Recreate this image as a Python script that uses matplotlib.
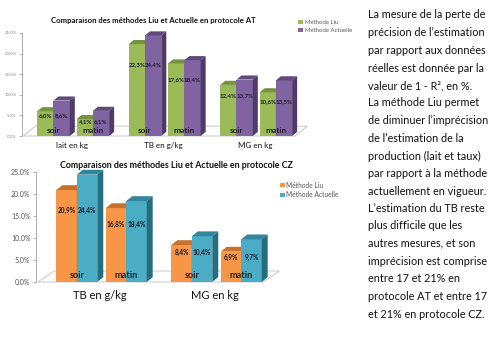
import matplotlib
matplotlib.use("Agg")
import matplotlib.pyplot as plt
from matplotlib.patches import Polygon, Rectangle

plt.rcParams['font.family'] = ['Lato', 'DejaVu Sans']

# ---------------- data ----------------
at_categories = ["lait en kg", "TB en g/kg", "MG en kg"]
at_liu_soir = [6.0, 22.3, 12.4]
at_act_soir = [8.6, 24.4, 13.7]
at_liu_matin = [4.1, 17.6, 10.6]
at_act_matin = [6.1, 18.4, 13.5]

cz_categories = ["TB en g/kg", "MG en kg"]
cz_liu_soir = [20.9, 8.4]
cz_act_soir = [24.4, 10.4]
cz_liu_matin = [16.8, 6.9]
cz_act_matin = [18.4, 9.7]

session_labels = ["soir", "matin"]
series_names = ["Méthode Liu", "Méthode Actuelle"]
y_ticks = [0, 5, 10, 15, 20, 25]

title_at = "Comparaison des méthodes Liu et Actuelle en protocole AT"
title_cz = "Comparaison des méthodes Liu et Actuelle en protocole CZ"

paragraphs = [
    ["La mesure de la perte de", "précision de l\u2019estimation",
     "par rapport aux données", "réelles est donnée par la",
     "valeur de 1 - R², en %."],
    ["La méthode Liu permet", "de diminuer l\u2019imprécision",
     "de l\u2019estimation de la", "production (lait et taux)",
     "par rapport à la méthode", "actuellement en vigueur."],
    ["L\u2019estimation du TB reste", "plus difficile que les",
     "autres mesures, et son", "imprécision est comprise",
     "entre 17 et 21% en", "protocole AT et entre 17",
     "et 21% en protocole CZ."],
]

W, H = 500, 345
fig = plt.figure(figsize=(W / 100, H / 100), dpi=100)
fig.patch.set_facecolor("white")


def px_axes(l, r, b, t):
    return fig.add_axes([l / W, 1 - b / H, (r - l) / W, (b - t) / H])


def fmt(v):
    return f"{v:.1f}%".replace(".", ",")


def bar3d(ax, x, v, w, dx, dy, front, top, side, z):
    ax.bar([x], [v], width=w, align="edge", color=front, zorder=z, linewidth=0)
    ax.add_patch(Polygon([(x, v), (x + w, v), (x + w + dx, v + dy), (x + dx, v + dy)],
                         closed=True, facecolor=top, edgecolor="none", zorder=z, clip_on=False))
    ax.add_patch(Polygon([(x + w, 0), (x + w + dx, dy), (x + w + dx, v + dy), (x + w, v)],
                         closed=True, facecolor=side, edgecolor="none", zorder=z, clip_on=False))


def draw_chart(ax, cats, liu_s, act_s, liu_m, act_m, colors, dx, dy, floor, xlim,
               tick_fs, tick_col, val_fs, sess_fs, cat_fs, cat_y):
    ax.set_xlim(*xlim)
    ax.set_ylim(0, 25)
    for s in ["top", "right", "bottom"]:
        ax.spines[s].set_visible(False)
    ax.spines["left"].set_color("#a0a0a0")
    ax.spines["left"].set_linewidth(0.6)
    ax.set_xticks([])
    ax.set_yticks(y_ticks)
    ax.set_yticklabels([f"{t:.1f}%" for t in y_ticks], fontsize=tick_fs, color=tick_col)
    ax.tick_params(axis="y", length=2, width=0.5, color="#a0a0a0", pad=2)
    ax.patch.set_alpha(0)
    # floor
    fl, fr, fdx, fdy = floor
    ax.add_patch(Polygon([(fl, 0), (fr, 0), (fr + fdx, fdy), (fl + fdx, fdy)], closed=True,
                         facecolor="white", edgecolor="#c8c8c8", linewidth=0.7,
                         zorder=1, clip_on=False))
    w = 0.178
    offs = [-0.38, 0.05]
    z = 3
    for i, c in enumerate(cats):
        for k, (a, b) in enumerate([(liu_s[i], act_s[i]), (liu_m[i], act_m[i])]):
            x0 = i + offs[k]
            bar3d(ax, x0, a, w, dx, dy, *colors[0], z)
            bar3d(ax, x0 + w, b, w, dx, dy, *colors[1], z + 1)
            z += 2
            ly = min(a, b) * 0.75 + 0.5
            ax.text(x0 + w / 2, ly, fmt(a), ha="center", va="center", fontsize=val_fs,
                    fontweight="bold", color="#1a1a2a", zorder=50)
            ax.text(x0 + 1.5 * w, ly, fmt(b), ha="center", va="center", fontsize=val_fs,
                    fontweight="bold", color="#1a1a2a", zorder=50)
            ax.text(x0 + w, 1.4, session_labels[k], ha="center", va="center",
                    fontsize=sess_fs, fontweight="bold", color="#222222", zorder=50)
        ax.text(i, cat_y, c, ha="center", va="center", fontsize=cat_fs,
                color="#111111", clip_on=False)


green = ("#9bbb59", "#76933c", "#6b8a33")
purple = ("#8064a2", "#604a7b", "#4f3a68")
orange = ("#f79646", "#c8712c", "#b8642a")
blue = ("#4bacc6", "#31859c", "#276d80")

# ---------- top chart (AT) ----------
ax1 = px_axes(22, 330, 136, 33)
draw_chart(ax1, at_categories, at_liu_soir, at_act_soir, at_liu_matin, at_act_matin,
           (green, purple), 0.055, 1.0, (-0.53, 2.44, 0.13, 2.4), (-0.546, 2.82),
           3.2, "#8a8a8a", 4.4, 6.0, 5.8, -2.2)
fig.text(153 / W, 1 - 20 / H, title_at, ha="center", va="center", fontsize=5.6,
         fontweight="bold", color="#111111")
for j, (name, col) in enumerate(zip(series_names, [green[0], purple[0]])):
    y = 1 - (22 + 8 * j) / H
    fig.patches.append(Rectangle((298 / W, y - 2.2 / H), 4.5 / W, 4.5 / H, facecolor=col,
                                 edgecolor="none", transform=fig.transFigure, figure=fig))
    fig.text(305 / W, y, name, ha="left", va="center", fontsize=4.3, color="#555555")

# ---------- bottom chart (CZ) ----------
ax2 = px_axes(36, 330, 282, 172)
draw_chart(ax2, cz_categories, cz_liu_soir, cz_act_soir, cz_liu_matin, cz_act_matin,
           (orange, blue), 0.052, 1.1, (-0.54, 1.42, 0.14, 2.5), (-0.557, 2.0),
           5.0, "#555555", 4.7, 6.6, 8.0, -3.1)
fig.text(176 / W, 1 - 165 / H, title_cz, ha="center", va="center", fontsize=6.4,
         fontweight="bold", color="#111111")
for j, (name, col) in enumerate(zip(series_names, [orange[0], blue[0]])):
    y = 1 - (185 + 10 * j) / H
    fig.patches.append(Rectangle((280 / W, y - 2.2 / H), 4.5 / W, 4.5 / H, facecolor=col,
                                 edgecolor="none", transform=fig.transFigure, figure=fig))
    fig.text(286 / W, y, name, ha="left", va="center", fontsize=4.8, color="#555555")

# ---------- right-hand text ----------
para_starts = [15, 103, 208]
line_step = 17.7
for p, lines in zip(para_starts, paragraphs):
    for n, line in enumerate(lines):
        fig.text(368 / W, 1 - (p + n * line_step) / H, line, ha="left", va="center",
                 fontsize=7.8, color="#111111")

fig.savefig("out.png", dpi=100, facecolor="white")
